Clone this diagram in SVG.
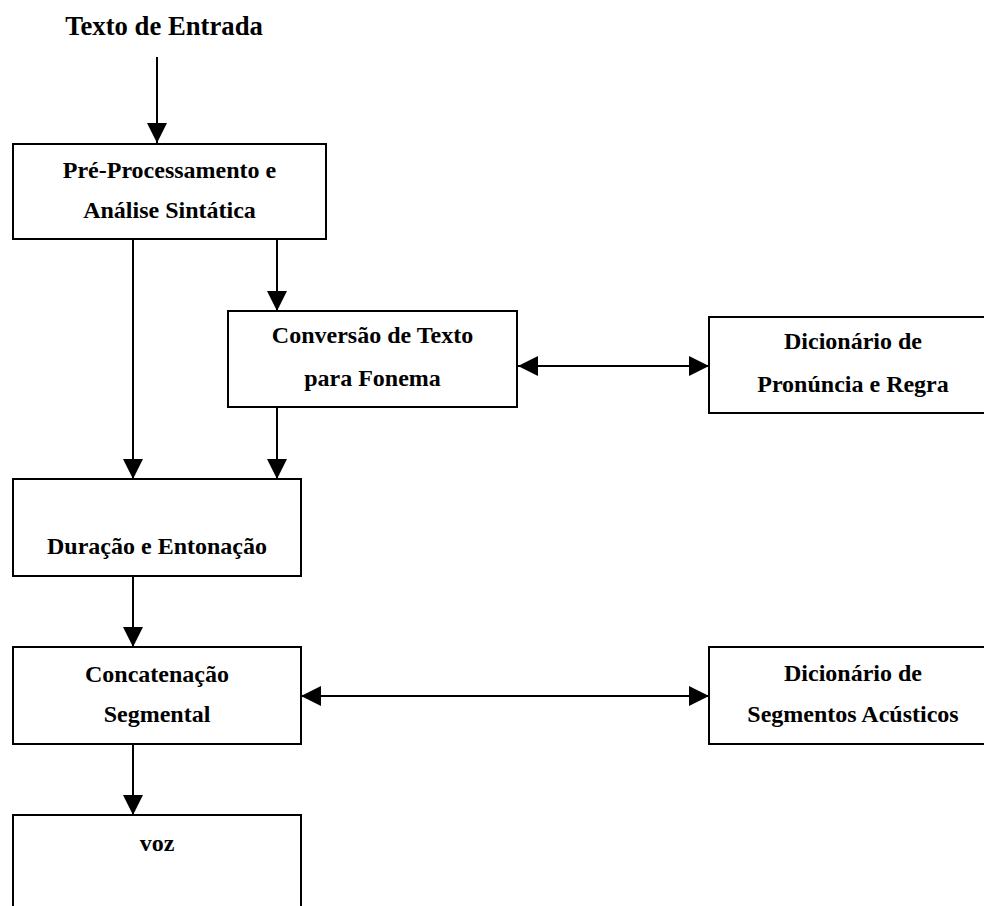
<svg xmlns="http://www.w3.org/2000/svg" width="984" height="906" viewBox="0 0 984 906">
<defs>
<style>
.box{fill:#fff;stroke:#000;stroke-width:2}
.lbl{font-family:"Liberation Serif","Times New Roman",serif;font-weight:bold;font-size:24px;fill:#000;text-anchor:middle}
.title{font-size:26.7px}
.con{stroke:#000;stroke-width:2;fill:none}
</style>
<marker id="ah" markerUnits="userSpaceOnUse" markerWidth="20" markerHeight="20" refX="20" refY="10" orient="auto-start-reverse" viewBox="0 0 20 20">
<path d="M0,0 L20,10 L0,20 z" fill="#000"/>
</marker>
</defs>
<rect width="984" height="906" fill="#fff"/>
<g id="connectors">
<line class="con" x1="157" y1="57" x2="157" y2="143" marker-end="url(#ah)"/>
<line class="con" x1="277" y1="239" x2="277" y2="311" marker-end="url(#ah)"/>
<line class="con" x1="133" y1="239" x2="133" y2="479" marker-end="url(#ah)"/>
<line class="con" x1="277" y1="407" x2="277" y2="479" marker-end="url(#ah)"/>
<line class="con" x1="133" y1="576" x2="133" y2="647" marker-end="url(#ah)"/>
<line class="con" x1="133" y1="744" x2="133" y2="815" marker-end="url(#ah)"/>
<line class="con" x1="518" y1="366" x2="709" y2="366" marker-start="url(#ah)" marker-end="url(#ah)"/>
<line class="con" x1="301" y1="696" x2="709" y2="696" marker-start="url(#ah)" marker-end="url(#ah)"/>
</g>
<g id="title">
<text class="lbl title" x="164" y="35">Texto de Entrada</text>
</g>
<g id="preproc">
<rect class="box" x="13" y="144" width="313" height="95"/>
<text class="lbl" x="169.5" y="178">Pré-Processamento e</text>
<text class="lbl" x="169.5" y="218">Análise Sintática</text>
</g>
<g id="conversao">
<rect class="box" x="228" y="311" width="289" height="96"/>
<text class="lbl" x="372.5" y="343">Conversão de Texto</text>
<text class="lbl" x="372.5" y="386">para Fonema</text>
</g>
<g id="dicpronuncia">
<rect class="box" x="709" y="317" width="290" height="96"/>
<text class="lbl" x="853" y="349">Dicionário de</text>
<text class="lbl" x="853" y="392">Pronúncia e Regra</text>
</g>
<g id="duracao">
<rect class="box" x="13" y="479" width="288" height="97"/>
<text class="lbl" x="157" y="554">Duração e Entonação</text>
</g>
<g id="concatenacao">
<rect class="box" x="13" y="647" width="288" height="97"/>
<text class="lbl" x="157" y="682">Concatenação</text>
<text class="lbl" x="157" y="722">Segmental</text>
</g>
<g id="dicsegmentos">
<rect class="box" x="709" y="647" width="290" height="97"/>
<text class="lbl" x="853" y="681">Dicionário de</text>
<text class="lbl" x="853" y="722">Segmentos Acústicos</text>
</g>
<g id="voz">
<rect class="box" x="13" y="815" width="288" height="100"/>
<text class="lbl" x="157" y="851">voz</text>
</g>
</svg>
